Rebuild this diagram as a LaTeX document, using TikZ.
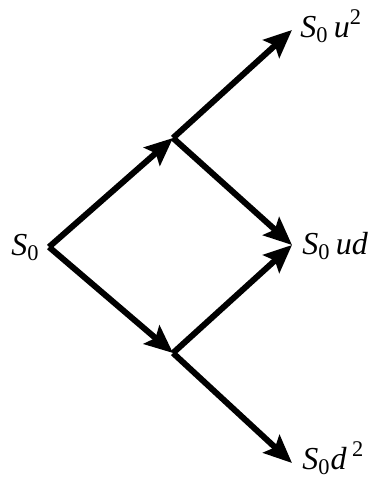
\documentclass[tikz,border=0pt]{standalone}
\usepackage{fontspec}
\setmainfont{Liberation Serif}
\usetikzlibrary{arrows.meta}
\newcommand{\Sz}{\textit{S}\textsubscript{0}}

\begin{document}
\begin{tikzpicture}[
    x=0.5pt, y=-0.5pt,
    every node/.style={font=\fontsize{16}{19}\selectfont, inner sep=0pt},
    branch/.style={line width=3pt, -{Stealth[length=14pt, width=12pt, inset=2.5pt]}},
    price/.style={anchor=base west},
]
\useasboundingbox (0,0) rectangle (369,477);

% === Tree points ===
\coordinate (s0) at (49,247);
\coordinate (up) at (173,138);
\coordinate (dn) at (173,353);
\coordinate (uu) at (292,30);
\coordinate (ud) at (292,245);
\coordinate (dd) at (292,463);

% === Labels ===
\node[anchor=base east] (ls0) at ([xshift=-4.5pt, yshift=-4pt]s0) {\Sz};
\node[price] (luu) at ([xshift=4pt, yshift=-3.5pt]uu) {\Sz\,\textit{u}\textsuperscript{2}};
\node[price] (lud) at ([xshift=5pt, yshift=-4.5pt]ud) {\Sz\,\textit{ud}};
\node[price] (ldd) at ([xshift=5pt, yshift=-3pt]dd) {\Sz\textit{d}\,\textsuperscript{2}};

% === Branches ===
\draw[branch] (s0) -- (up);
\draw[branch] (s0) -- (dn);
\draw[branch] (up) -- (uu);
\draw[branch] (up) -- (ud);
\draw[branch] (dn) -- (ud);
\draw[branch] (dn) -- (dd);

\end{tikzpicture}
\end{document}
